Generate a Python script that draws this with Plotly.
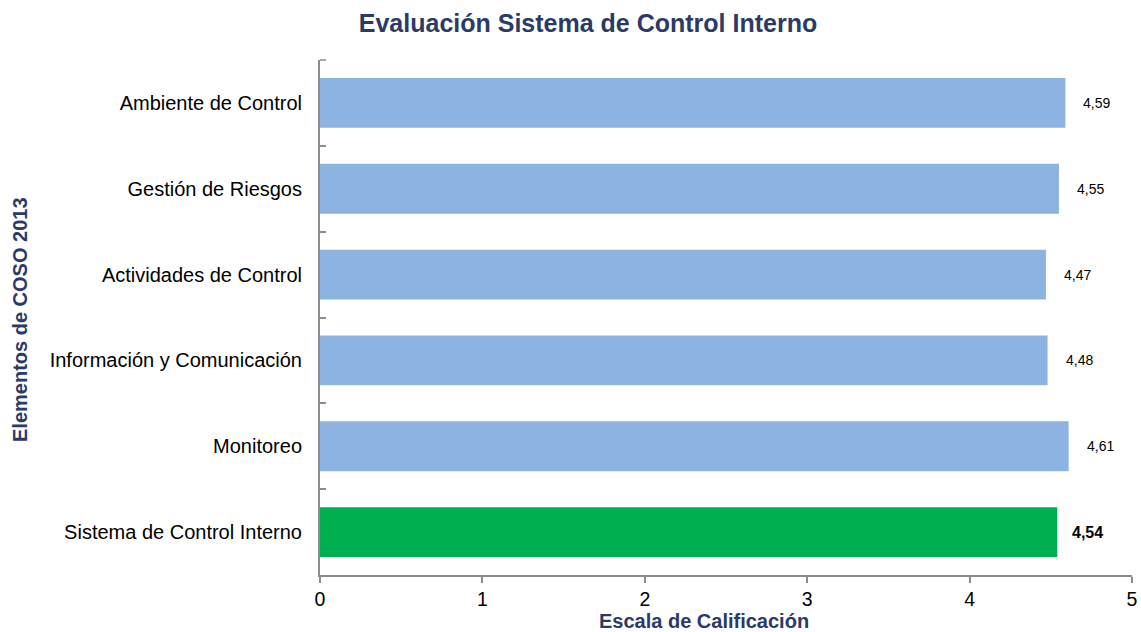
import plotly.graph_objects as go

# COSO 2013 component scores
categories = [
    "Ambiente de Control",
    "Gestión de Riesgos",
    "Actividades de Control",
    "Información y Comunicación",
    "Monitoreo",
    "Sistema de Control Interno",
]
scores = [4.59, 4.55, 4.47, 4.48, 4.61, 4.54]
x_ticks = [0, 1, 2, 3, 4, 5]

BLUE = "#8DB3E2"
GREEN = "#00B050"
NAVY = "#2B3A67"
AXIS = "#8C8C8C"
FONT = "Liberation Sans, Arial"

L, R, T, B = 320, 9, 60, 57
W, H = 1141, 632
PLOT_W = W - L - R
PLOT_H = H - T - B

bar_colors = [BLUE] * (len(categories) - 1) + [GREEN]

fig = go.Figure()
fig.add_trace(go.Bar(
    x=scores,
    y=categories,
    orientation="h",
    width=0.58,
    marker=dict(color=bar_colors, line=dict(width=0)),
    hoverinfo="x+y",
))

# value labels just past the end of each bar (decimal comma)
for i, (cat, v) in enumerate(zip(categories, scores)):
    label = f"{v:.2f}".replace(".", ",")
    last = i == len(categories) - 1
    fig.add_annotation(
        x=v, y=cat, xref="x", yref="y",
        text=f"<b>{label}</b>" if last else label,
        showarrow=False, xanchor="left", yanchor="middle",
        xshift=13 if last else 16,
        font=dict(family=FONT, size=16 if last else 14, color="#000000"),
    )

# axis titles
fig.add_annotation(
    text="<b>Escala de Calificación</b>",
    xref="paper", yref="paper",
    x=(704 - L) / PLOT_W, y=-(621 - (H - B)) / PLOT_H,
    xanchor="center", yanchor="middle", showarrow=False,
    font=dict(family=FONT, size=20, color=NAVY),
)
fig.add_annotation(
    text="<b>Elementos de COSO 2013</b>",
    xref="paper", yref="paper",
    x=(20 - L) / PLOT_W, y=1 - (320 - T) / PLOT_H,
    xanchor="center", yanchor="middle", textangle=-90, showarrow=False,
    font=dict(family=FONT, size=20, color=NAVY),
)

# tick mark at the top end of the category axis
fig.add_shape(
    type="line", xref="paper", yref="paper",
    x0=0, x1=6 / PLOT_W, y0=1, y1=1,
    line=dict(color=AXIS, width=1.5),
)

fig.update_layout(
    width=W, height=H,
    margin=dict(l=L, r=R, t=T, b=B, autoexpand=False),
    paper_bgcolor="white", plot_bgcolor="white",
    showlegend=False,
    title=dict(
        text="<b>Evaluación Sistema de Control Interno</b>",
        x=588 / W, xanchor="center", y=1 - 23 / H, yanchor="middle",
        font=dict(family=FONT, size=25, color=NAVY),
    ),
    font=dict(family=FONT, color="#000000"),
)

fig.update_xaxes(
    range=[0, 5], tickvals=x_ticks, ticktext=[str(t) for t in x_ticks],
    automargin=False,
    showgrid=False, zeroline=False,
    showline=True, linecolor=AXIS, linewidth=2,
    ticks="outside", ticklen=6, tickwidth=1.5, tickcolor=AXIS,
    tickfont=dict(size=19.5, color="#000000"),
)

fig.update_yaxes(
    autorange="reversed",
    automargin=False,
    showgrid=False, zeroline=False,
    showline=True, linecolor=AXIS, linewidth=2,
    ticks="inside", ticklen=6, tickwidth=1.5, tickcolor=AXIS,
    tickson="boundaries",
    ticklabelstandoff=12,
    tickfont=dict(size=20, color="#000000"),
)

fig.write_html("out.html")
